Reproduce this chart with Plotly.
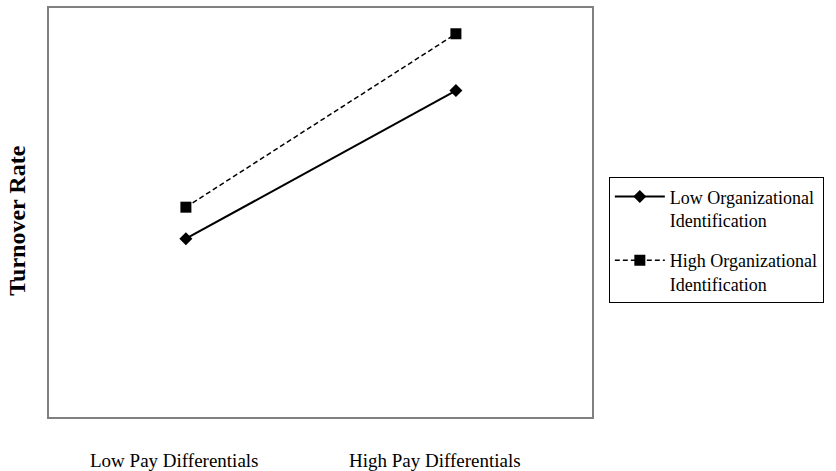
import plotly.graph_objects as go

categories = ["Low Pay Differentials", "High Pay Differentials"]
x_pos = [0, 1]
low_oi = [4.36, 7.98]
high_oi = [5.13, 9.37]
series_names = ["Low Organizational<br>Identification", "High Organizational<br>Identification"]
y_title = "Turnover Rate"

FONT = "Liberation Serif, Times New Roman, serif"

fig = go.Figure()
fig.add_trace(go.Scatter(
    x=x_pos, y=low_oi, mode="lines+markers", name=series_names[0], legendgroup="low",
    line=dict(color="black", width=2, dash="solid"),
    marker=dict(symbol="diamond", size=10, color="black"),
))
fig.add_trace(go.Scatter(
    x=x_pos, y=high_oi, mode="lines+markers", name=series_names[1], legendgroup="high",
    line=dict(color="black", width=1.5, dash="5px,3px"),
    marker=dict(symbol="square", size=11, color="black"),
))

label_paper_x = [0.232, 0.711]
for i, c in enumerate(categories):
    fig.add_annotation(x=label_paper_x[i], y=0, xref="paper", yref="paper", yshift=-43,
                       xanchor="center", yanchor="middle",
                       text=c, showarrow=False, font=dict(family=FONT, size=19, color="black"))

fig.add_annotation(x=0, y=0.48, xref="paper", yref="paper", xshift=-32, textangle=-90,
                   xanchor="center", yanchor="middle",
                   text="<b>" + y_title + "</b>", showarrow=False,
                   font=dict(family=FONT, size=24, color="black"))

fig.update_layout(
    width=836, height=471,
    margin=dict(l=49, r=244, t=6, b=54),
    paper_bgcolor="white", plot_bgcolor="white",
    font=dict(family=FONT, size=16, color="black"),
    showlegend=True,
    legend=dict(x=1.031, y=0.586, xanchor="left", yanchor="top",
                bordercolor="black", borderwidth=1, bgcolor="white",
                font=dict(family=FONT, size=18, color="black"),
                valign="top", tracegroupgap=14, itemwidth=50),
    xaxis=dict(range=[-0.507, 1.504], showticklabels=False, showgrid=False, zeroline=False,
               showline=True, mirror=True, linecolor="#808080", linewidth=2, ticks=""),
    yaxis=dict(range=[0, 10], showticklabels=False, showgrid=False, zeroline=False,
               showline=True, mirror=True, linecolor="#808080", linewidth=2, ticks=""),
)

fig.write_html("out.html", config={"displayModeBar": False},
               post_script="document.body.style.margin='0';")
